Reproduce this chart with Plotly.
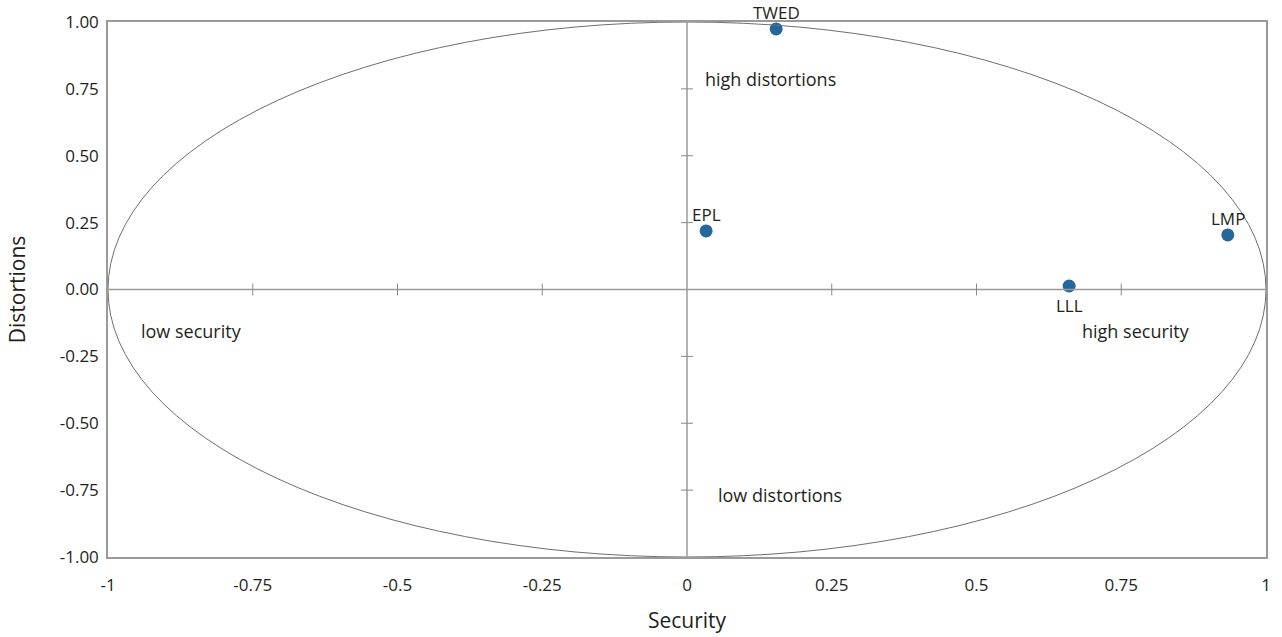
import plotly.graph_objects as go

# Data
names = ["TWED", "EPL", "LMP", "LLL"]
security = [0.154, 0.033, 0.934, 0.660]
distortions = [0.974, 0.219, 0.204, 0.013]
label_above = [True, True, True, False]

x_tickvals = [-1, -0.75, -0.5, -0.25, 0, 0.25, 0.5, 0.75, 1]
x_ticktext = ["-1", "-0.75", "-0.5", "-0.25", "0", "0.25", "0.5", "0.75", "1"]
y_tickvals = [-1, -0.75, -0.5, -0.25, 0, 0.25, 0.5, 0.75, 1]
y_ticktext = ["-1.00", "-0.75", "-0.50", "-0.25", "0.00", "0.25", "0.50", "0.75", "1.00"]

quadrant_labels = ["high distortions", "low distortions", "low security", "high security"]
quadrant_x = [0.028, 0.050, -0.946, 0.679]
quadrant_y = [0.787, -0.768, -0.155, -0.155]

FONT = "Open Sans, Noto Sans, sans-serif"
GREY = "#9a9a9a"
TXT = "#231f20"

fig = go.Figure()

fig.add_trace(go.Scatter(
    x=security, y=distortions, mode="markers",
    marker=dict(size=13, color="#23679c"),
    showlegend=False, cliponaxis=False, hoverinfo="skip",
))

shapes = []
# unit circle (ellipse in pixel space)
shapes.append(dict(type="circle", xref="x", yref="y", x0=-1, x1=1, y0=-1, y1=1,
                   line=dict(color="#6e6e6e", width=1)))
# zero lines
shapes.append(dict(type="line", xref="x", yref="y", x0=-1, x1=1, y0=0, y1=0,
                   line=dict(color=GREY, width=1.5)))
shapes.append(dict(type="line", xref="x", yref="y", x0=0, x1=0, y0=-1, y1=1,
                   line=dict(color=GREY, width=1.5)))
# small tick marks on the zero lines
for v in x_tickvals:
    if v in (-1, 0, 1):
        continue
    shapes.append(dict(type="line", xref="x", yref="y", xsizemode="scaled",
                       ysizemode="pixel", yanchor=0, x0=v, x1=v, y0=-6, y1=6,
                       line=dict(color="#8a8a8a", width=1)))
for v in y_tickvals:
    if v in (-1, 0, 1):
        continue
    shapes.append(dict(type="line", xref="x", yref="y", xsizemode="pixel",
                       xanchor=0, x0=-6, x1=6, y0=v, y1=v,
                       line=dict(color="#8a8a8a", width=1)))

annotations = []
for t, xx, yy in zip(quadrant_labels, quadrant_x, quadrant_y):
    annotations.append(dict(x=xx, y=yy, xref="x", yref="y", text=t, showarrow=False,
                            xanchor="left", yanchor="middle",
                            font=dict(family=FONT, size=18, color=TXT)))
# point labels
for n, xx, yy, up in zip(names, security, distortions, label_above):
    annotations.append(dict(x=xx, y=yy, xref="x", yref="y", text=n, showarrow=False,
                            xanchor="center", yanchor="bottom" if up else "top",
                            yshift=3 if up else -6,
                            font=dict(family=FONT, size=17, color=TXT)))

fig.update_layout(
    width=1282, height=637,
    margin=dict(l=108, r=16, t=22, b=80),
    paper_bgcolor="white", plot_bgcolor="white",
    shapes=shapes, annotations=annotations,
    font=dict(family=FONT, color=TXT, size=17),
    xaxis=dict(range=[-1, 1], tickvals=x_tickvals, ticktext=x_ticktext,
               showgrid=False, zeroline=False, showline=True, mirror=True,
               linecolor=GREY, linewidth=1.5, ticks="", ticklabelstandoff=12,
               automargin=False,
               title=dict(text="Security", font=dict(size=21), standoff=18),
               tickfont=dict(size=17)),
    yaxis=dict(range=[-1, 1], tickvals=y_tickvals, ticktext=y_ticktext,
               showgrid=False, zeroline=False, showline=True, mirror=True,
               linecolor=GREY, linewidth=1.5, ticks="", ticklabelstandoff=4,
               automargin=False,
               title=dict(text="Distortions", font=dict(size=21), standoff=28),
               tickfont=dict(size=17)),
)

fig.write_html("out.html", config={"displayModeBar": False},
               post_script="document.body.style.margin='0';")
